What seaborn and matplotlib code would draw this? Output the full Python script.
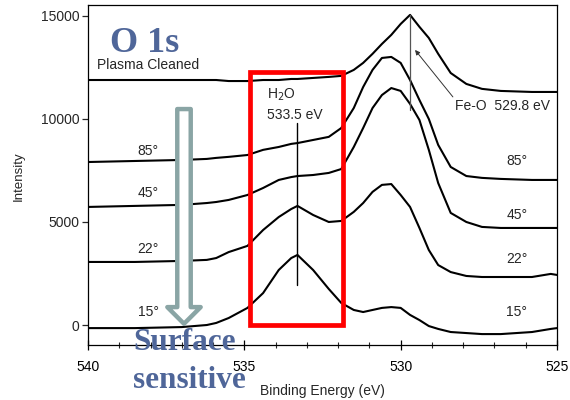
import numpy as np
import pandas as pd
import seaborn as sns
import matplotlib.pyplot as plt
from matplotlib.patches import Rectangle

# binding energy grid (eV)
energy = [540.0, 538.5, 537.0, 536.2, 535.9, 535.5, 534.9, 534.4, 533.9, 533.5, 533.3,
          532.8, 532.3, 531.9, 531.5, 531.2, 530.9, 530.6, 530.3, 530.0, 529.7, 529.4,
          529.1, 528.8, 528.4, 527.9, 527.4, 526.8, 525.8, 525.2, 525.0]

plasma = [11890, 11890, 11890, 11890, 11890, 11840, 11840, 11890, 11890, 11940, 11940,
          11990, 12040, 12090, 12380, 12720, 13160, 13640, 14080, 14610, 15050, 14470,
          13930, 13160, 12230, 11700, 11460, 11360, 11310, 11310, 11310]
deg85 = [7910, 7960, 8010, 8060, 8110, 8160, 8250, 8500, 8640, 8790, 8830,
         8980, 9130, 9560, 10530, 11550, 12380, 12960, 13010, 12720, 11890, 10920,
         10000, 8740, 7670, 7230, 7140, 7090, 7040, 7040, 7040]
deg45 = [5730, 5780, 5830, 5920, 5970, 6070, 6310, 6650, 7040, 7180, 7230,
         7280, 7380, 7570, 8640, 9560, 10530, 11160, 11500, 11360, 10730, 9950,
         8500, 6890, 5440, 5000, 4760, 4710, 4710, 4710, 4710]
deg22 = [3060, 3060, 3110, 3160, 3250, 3540, 3840, 4610, 5240, 5630, 5780,
         5340, 5000, 5050, 5490, 5920, 6460, 6800, 6840, 6310, 5730, 4710,
         3640, 2910, 2570, 2380, 2330, 2330, 2330, 2480, 2430]
deg15 = [-150, -150, -100, 0, 100, 340, 830, 1550, 2670, 3250, 3400,
         2670, 1750, 1070, 730, 630, 730, 830, 870, 830, 490, 240,
         -50, -190, -340, -390, -440, -440, -340, -190, -150]

series = {'plasma': plasma, '85': deg85, '45': deg45, '22': deg22, '15': deg15}
angle_labels = ['85°', '45°', '22°', '15°']
left_label_y = [8450, 6410, 3690, 630]
right_label_y = [7960, 5340, 3200, 630]

h2o_energy = 533.3
feo_energy = 529.7

df = pd.concat([pd.DataFrame({'energy': energy, 'intensity': v, 'angle': k})
                for k, v in series.items()])

sns.set_style('ticks')
plt.rcParams['font.family'] = ['Liberation Sans', 'DejaVu Sans']

fig = plt.figure(figsize=(5.7, 4), dpi=100)
ax = fig.add_axes([0.1544, 0.1375, 0.8228, 0.85])

sns.lineplot(data=df, x='energy', y='intensity', hue='angle', palette=['black'] * 5,
             legend=False, estimator=None, lw=1.5, ax=ax)

ax.set_xlim(540, 525)
ax.set_ylim(-970, 15530)
ax.set_xticks([540, 535, 530, 525])
ax.set_xticks(np.arange(525, 541, 1), minor=True)
ax.set_yticks([0, 5000, 10000, 15000])
ax.tick_params(axis='x', which='major', direction='inout', length=7, width=0.9,
               pad=7, labelsize=10, colors='black')
ax.tick_params(axis='x', which='minor', direction='inout', length=4, width=0.8)
ax.tick_params(axis='y', direction='out', length=4, width=0.9, pad=2, labelsize=10)
for s in ax.spines.values():
    s.set_visible(True)
    s.set_linewidth(0.9)
    s.set_color('black')

ax.set_xlabel('Binding Energy (eV)', fontsize=10)
ax.set_ylabel('Intensity', fontsize=9.5)
ax.xaxis.set_label_coords(0.499, -0.115)
ax.yaxis.set_label_coords(-0.134, 0.497)

for lab, yl, yr in zip(angle_labels, left_label_y, right_label_y):
    ax.text(538.08, yl, lab, fontsize=10, ha='center', va='center')
    ax.text(526.28, yr, lab, fontsize=10, ha='center', va='center')

ax.text(539.71, 12620, 'Plasma Cleaned', fontsize=10, ha='left', va='center')

# H2O marker
ax.text(534.28, 11160, 'H$_2$O', fontsize=10, ha='left', va='center')
ax.text(534.28, 10190, '533.5 eV', fontsize=10, ha='left', va='center')
ax.plot([h2o_energy, h2o_energy], [1940, 9800], color='black', lw=1)

# Fe-O marker
ax.plot([feo_energy, feo_energy], [10440, 15050], color='#555555', lw=0.9)
ax.annotate('', xy=(529.54, 13350), xytext=(528.33, 11070),
            arrowprops=dict(arrowstyle='-|>', color='#333333', lw=0.7,
                            mutation_scale=7, shrinkA=0, shrinkB=0))
ax.text(528.26, 10630, 'Fe-O  529.8 eV', fontsize=10, ha='left', va='center')

# red highlight box
ax.add_patch(Rectangle((531.85, 0), 534.82 - 531.85, 12280, fill=False,
                       ec='#ff0000', lw=3.4, zorder=5))

# hollow grey arrow
ax.annotate('', xy=(536.93, 60), xytext=(536.93, 10480),
            arrowprops=dict(arrowstyle='simple,head_length=12,head_width=24,tail_width=9.7',
                            mutation_scale=1, fc='white', ec='#8aa5a5', lw=3.2,
                            shrinkA=0, shrinkB=0), zorder=6)

blue = '#4f6699'
fig.text(110 / 570, 1 - 52 / 400, 'O 1s', fontsize=26, fontweight='bold',
         family='Liberation Serif', color=blue, ha='left', va='baseline')
fig.text(133 / 570, 1 - 350 / 400, 'Surface', fontsize=22.5, fontweight='bold',
         family='Liberation Serif', color=blue, ha='left', va='baseline', zorder=10)
fig.text(133 / 570, 1 - 388 / 400, 'sensitive', fontsize=22.5, fontweight='bold',
         family='Liberation Serif', color=blue, ha='left', va='baseline', zorder=10)

fig.savefig('out.png', dpi=100)
